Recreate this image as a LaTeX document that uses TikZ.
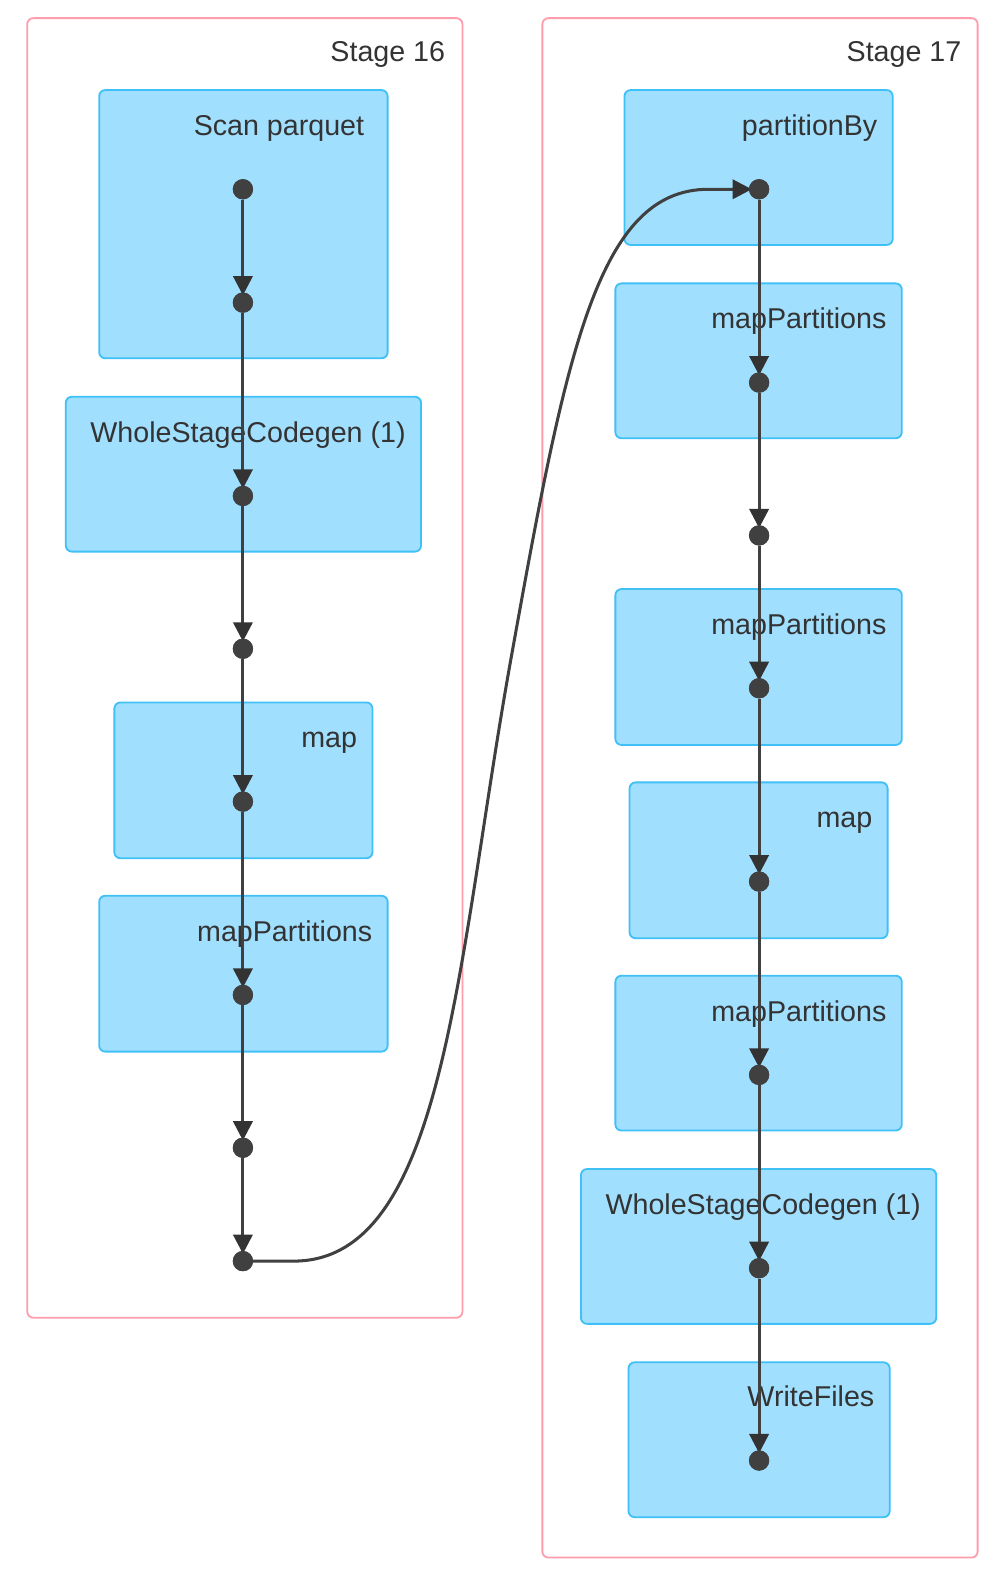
\documentclass[tikz,border=0pt]{standalone}
\usepackage{fontspec}
\setmainfont{Liberation Sans}
\usetikzlibrary{arrows.meta}
\definecolor{clusterpink}{HTML}{FF9DAD}
\definecolor{boxfill}{HTML}{A1DFFE}
\definecolor{boxline}{HTML}{3FC0F7}
\definecolor{ink}{HTML}{333333}
\definecolor{edgegray}{HTML}{404040}
\tikzset{
  cluster/.style={draw=clusterpink, line width=1.8pt, rounded corners=6pt, fill=white},
  opbox/.style={draw=boxline, fill=boxfill, line width=1.8pt, rounded corners=6pt, inner sep=0pt},
  lbl/.style={anchor=base east, inner sep=0pt, text=ink, font=\fontsize{28.3}{34}\selectfont},
  dotnode/.style={circle, fill=edgegray, draw=none, minimum size=20pt, inner sep=0pt},
  edge/.style={draw=edgegray, line width=3pt, shorten >=-3pt, -{Triangle[length=19pt 0,width=19pt 0,color=ink]}},
}
\begin{document}
\begin{tikzpicture}[x=1pt,y=-1pt]
\useasboundingbox (0,0) rectangle (992,1567);
% clusters
\node[cluster, minimum width=430pt, minimum height=1284pt, anchor=north west] (s16) at (26,17) {};
\node[cluster, minimum width=430pt, minimum height=1521pt, anchor=north west] (s17) at (535,17) {};
\node[lbl] (s16l) at (440,61) {Stage 16};
\node[lbl] (s17l) at (950,61) {Stage 17};
% stage 16 boxes
\node[opbox, minimum width=285pt, minimum height=265pt] (sp) at (240.5,221.5) {};
\node[opbox, minimum width=351pt, minimum height=153pt] (w1) at (240.5,468.5) {};
\node[opbox, minimum width=255pt, minimum height=154pt] (m1) at (240.5,771) {};
\node[opbox, minimum width=285pt, minimum height=154pt] (mp1) at (240.5,962) {};
\node[lbl] (spl) at (360,134) {Scan parquet};
\node[lbl] (w1l) at (401,437) {WholeStageCodegen (1)};
\node[lbl] (m1l) at (353,739) {map};
\node[lbl] (mp1l) at (368,930) {mapPartitions};
% stage 17 boxes
\node[opbox, minimum width=265pt, minimum height=153pt] (pb) at (749.5,165.5) {};
\node[opbox, minimum width=283pt, minimum height=153pt] (mp2) at (749.5,356.5) {};
\node[opbox, minimum width=283pt, minimum height=154pt] (mp3) at (749.5,659) {};
\node[opbox, minimum width=255pt, minimum height=154pt] (m2) at (749.5,850) {};
\node[opbox, minimum width=283pt, minimum height=153pt] (mp4) at (749.5,1040.5) {};
\node[opbox, minimum width=351pt, minimum height=153pt] (w2) at (749.5,1231.5) {};
\node[opbox, minimum width=258pt, minimum height=153pt] (wf) at (750,1422.5) {};
\node[lbl] (pbl) at (867,134) {partitionBy};
\node[lbl] (mp2l) at (876,325) {mapPartitions};
\node[lbl] (mp3l) at (876,627) {mapPartitions};
\node[lbl] (m2l) at (862,818) {map};
\node[lbl] (mp4l) at (876,1009) {mapPartitions};
\node[lbl] (w2l) at (910,1200) {WholeStageCodegen (1)};
\node[lbl] (wfl) at (864,1390) {WriteFiles};
% dots
\foreach \n/\y in {1/187,2/299,3/490,4/641,5/792,6/983,7/1134,8/1246}
  \node[dotnode] (a\n) at (240,\y) {};
\foreach \n/\y in {1/187,2/378,3/529,4/680,5/871,6/1062,7/1253,8/1443}
  \node[dotnode] (b\n) at (750,\y) {};
% edges
\foreach \i/\j in {1/2,2/3,3/4,4/5,5/6,6/7,7/8}{
  \draw[edge] (a\i) -- (a\j);
  \draw[edge] (b\i) -- (b\j);
}
\draw[edge] (a8.center) -- (290,1246) .. controls (440,1246) and (451,950) .. (505,650)
  .. controls (559,350) and (590,187) .. (700,187) -- (b1);
% redraw dots on top
\foreach \n/\y in {1/187,2/299,3/490,4/641,5/792,6/983,7/1134,8/1246}
  \fill[edgegray] (240,\y) circle (10pt);
\foreach \n/\y in {1/187,2/378,3/529,4/680,5/871,6/1062,7/1253,8/1443}
  \fill[edgegray] (750,\y) circle (10pt);
\end{tikzpicture}
\end{document}
